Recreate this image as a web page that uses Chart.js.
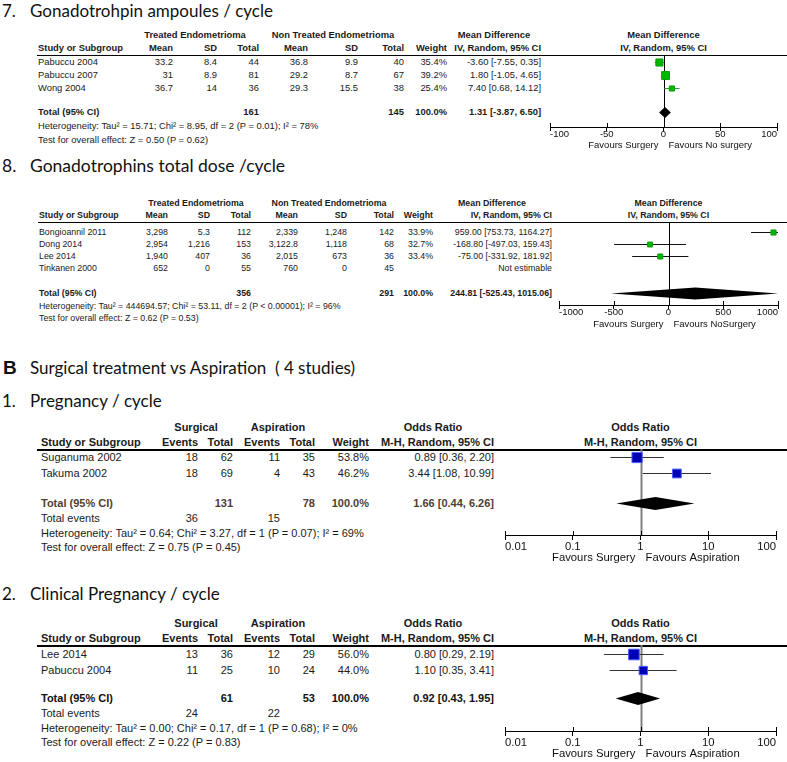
<!DOCTYPE html>
<html lang="en">
<head>
<meta charset="UTF-8">
<title>Forest plots</title>
<script src="https://cdn.jsdelivr.net/npm/chart.js"></script>
<style>
  body { margin: 0; background: #fff; }
  #page { position: relative; width: 787px; height: 762px; overflow: hidden;
          font-family: "Liberation Sans", Arial, sans-serif; color: #1a1a1a; }
  .t { position: absolute; white-space: pre; line-height: 1; }
  .title { font-family: Lato, "Open Sans", sans-serif; font-size: 17px; color: #111; }
  .rule { position: absolute; height: 1px; background: #000; }
  canvas { position: absolute; }
</style>
</head>
<body>
<div id="page"></div>
<script>
// ---- 7. Gonadotrophin ampoules / cycle ----
const studies7 = ['Pabuccu 2004', 'Pabuccu 2007', 'Wong 2004'];
const treatMean7 = ['33.2', '31', '36.7'];
const treatSD7 = ['8.4', '8.9', '14'];
const treatN7 = ['44', '81', '36'];
const ctrlMean7 = ['36.8', '29.2', '29.3'];
const ctrlSD7 = ['9.9', '8.7', '15.5'];
const ctrlN7 = ['40', '67', '38'];
const weight7 = [35.4, 39.2, 25.4];
const md7 = [-3.60, 1.80, 7.40];
const lo7 = [-7.55, -1.05, 0.68];
const hi7 = [0.35, 4.65, 14.12];
const totalN7 = ['161', '145'];
const total7 = [1.31, -3.87, 6.50];
const het7 = 'Heterogeneity: Tau² = 15.71; Chi² = 8.95, df = 2 (P = 0.01); I² = 78%';
const test7 = 'Test for overall effect: Z = 0.50 (P = 0.62)';
const ticks7 = [-100, -50, 0, 50, 100];

// ---- 8. Gonadotrophins total dose / cycle ----
const studies8 = ['Bongioannil 2011', 'Dong 2014', 'Lee 2014', 'Tinkanen 2000'];
const treatMean8 = ['3,298', '2,954', '1,940', '652'];
const treatSD8 = ['5.3', '1,216', '407', '0'];
const treatN8 = ['112', '153', '36', '55'];
const ctrlMean8 = ['2,339', '3,122.8', '2,015', '760'];
const ctrlSD8 = ['1,248', '1,118', '673', '0'];
const ctrlN8 = ['142', '68', '36', '45'];
const weight8 = [33.9, 32.7, 33.4, null];
const md8 = [959.00, -168.80, -75.00, null];
const lo8 = [753.73, -497.03, -331.92, null];
const hi8 = [1164.27, 159.43, 181.92, null];
const totalN8 = ['356', '291'];
const total8 = [244.81, -525.43, 1015.06];
const het8 = 'Heterogeneity: Tau² = 444694.57; Chi² = 53.11, df = 2 (P < 0.00001); I² = 96%';
const test8 = 'Test for overall effect: Z = 0.62 (P = 0.53)';
const ticks8 = [-1000, -500, 0, 500, 1000];

// ---- B1. Pregnancy / cycle ----
const studiesB1 = ['Suganuma 2002', 'Takuma 2002'];
const surgEvB1 = ['18', '18'];
const surgNB1 = ['62', '69'];
const aspEvB1 = ['11', '4'];
const aspNB1 = ['35', '43'];
const weightB1 = [53.8, 46.2];
const orB1 = [0.89, 3.44];
const loB1 = [0.36, 1.08];
const hiB1 = [2.20, 10.99];
const totalNB1 = ['131', '78'];
const totalEvB1 = ['36', '15'];
const totalB1 = [1.66, 0.44, 6.26];
const hetB1 = 'Heterogeneity: Tau² = 0.64; Chi² = 3.27, df = 1 (P = 0.07); I² = 69%';
const testB1 = 'Test for overall effect: Z = 0.75 (P = 0.45)';

// ---- B2. Clinical pregnancy / cycle ----
const studiesB2 = ['Lee 2014', 'Pabuccu 2004'];
const surgEvB2 = ['13', '11'];
const surgNB2 = ['36', '25'];
const aspEvB2 = ['12', '10'];
const aspNB2 = ['29', '24'];
const weightB2 = [56.0, 44.0];
const orB2 = [0.80, 1.10];
const loB2 = [0.29, 0.35];
const hiB2 = [2.19, 3.41];
const totalNB2 = ['61', '53'];
const totalEvB2 = ['24', '22'];
const totalB2 = [0.92, 0.43, 1.95];
const hetB2 = 'Heterogeneity: Tau² = 0.00; Chi² = 0.17, df = 1 (P = 0.68); I² = 0%';
const testB2 = 'Test for overall effect: Z = 0.22 (P = 0.83)';

const ticksOR = [0.01, 0.1, 1, 10, 100];
const tickLabelsOR = ['0.01', '0.1', '1', '10', '100'];

const FONT = '"Liberation Sans", Arial, sans-serif';
const page = document.getElementById('page');

function txt(x, y, s, o = {}) {
  const d = document.createElement('div');
  d.className = 't' + (o.cls ? ' ' + o.cls : '');
  d.textContent = s;
  d.style.left = x + 'px';
  d.style.top = y + 'px';
  if (o.size) d.style.fontSize = o.size + 'px';
  if (o.bold) d.style.fontWeight = 'bold';
  if (o.color) d.style.color = o.color;
  const tx = o.align === 'right' ? '-100%' : o.align === 'center' ? '-50%' : '0';
  d.style.transform = `translate(${tx}, -50%)`;
  page.appendChild(d);
  return d;
}

function rule(x0, x1, y, h = 1) {
  const d = document.createElement('div');
  d.className = 'rule';
  d.style.left = x0 + 'px';
  d.style.width = (x1 - x0) + 'px';
  d.style.top = y + 'px';
  d.style.height = h + 'px';
  page.appendChild(d);
}

const ci = (e, l, h) => `${e.toFixed(2)} [${l.toFixed(2)}, ${h.toFixed(2)}]`;

// decorations: null line, total diamond, crossing tick marks, "Favours" labels
const forestDecor = {
  id: 'forestDecor',
  beforeDatasetsDraw(chart, args, o) {
    const { ctx, chartArea: a, scales: { x } } = chart;
    const cx = Math.round(x.getPixelForValue(o.nullValue)) + 0.5;
    ctx.save();
    ctx.strokeStyle = o.nullColor;
    ctx.lineWidth = o.nullWidth;
    ctx.beginPath();
    ctx.moveTo(cx, a.top);
    ctx.lineTo(cx, a.bottom);
    ctx.stroke();
    ctx.restore();
  },
  afterDatasetsDraw(chart, args, o) {
    const { ctx, chartArea: a, scales: { x, y } } = chart;
    const [est, lo, hi] = o.total;
    const yy = y.getPixelForValue(o.totalRow);
    ctx.save();
    ctx.beginPath();
    ctx.rect(a.left, a.top, a.width, a.height);
    ctx.clip();
    ctx.fillStyle = '#000';
    ctx.beginPath();
    ctx.moveTo(x.getPixelForValue(lo), yy);
    ctx.lineTo(x.getPixelForValue(est), yy - o.diamondH);
    ctx.lineTo(x.getPixelForValue(hi), yy);
    ctx.lineTo(x.getPixelForValue(est), yy + o.diamondH);
    ctx.closePath();
    ctx.fill();
    ctx.restore();
  },
  afterDraw(chart, args, o) {
    const { ctx, chartArea: a, scales: { x } } = chart;
    ctx.save();
    ctx.strokeStyle = '#000';
    ctx.lineWidth = 1;
    x.ticks.forEach(t => {
      const px = Math.round(x.getPixelForValue(t.value)) + 0.5;
      ctx.beginPath();
      ctx.moveTo(px, a.bottom - 4);
      ctx.lineTo(px, a.bottom);
      ctx.stroke();
    });
    const cx = x.getPixelForValue(o.nullValue);
    ctx.fillStyle = '#111';
    ctx.font = `${o.favSize}px ${FONT}`;
    ctx.textBaseline = 'middle';
    ctx.textAlign = 'right';
    ctx.fillText(o.favL, cx - 5, a.bottom + o.favDy);
    ctx.textAlign = 'left';
    ctx.fillText(o.favR, cx + 5, a.bottom + o.favDy);
    ctx.restore();
  }
};

function forestChart(p) {
  const n = p.est.length;
  const axisH = 32;
  const w = p.x1 - p.x0 + 1;
  const h = p.axisY - p.ruleY + axisH;
  const c = document.createElement('canvas');
  c.width = w;
  c.height = h;
  c.style.left = p.x0 + 'px';
  c.style.top = p.ruleY + 'px';
  c.style.width = w + 'px';
  c.style.height = h + 'px';
  page.appendChild(c);

  const idx = p.est.map((v, i) => i).filter(i => p.est[i] != null);
  const ciSets = idx.map(i => ({
    type: 'line',
    data: [{ x: p.lo[i], y: i }, { x: p.hi[i], y: i }],
    borderColor: p.ciColor,
    borderWidth: 1,
    pointRadius: 0,
    order: 2
  }));
  const markers = {
    type: 'scatter',
    data: idx.map(i => ({ x: p.est[i], y: i })),
    pointStyle: 'rect',
    pointRadius: idx.map(i => p.weight[i] * p.sizeK / Math.SQRT2),
    backgroundColor: p.fill,
    borderColor: p.edge,
    borderWidth: 1,
    order: 0
  };
  const totalRow = (n - 1) + p.totalGap / p.pitch;
  // half-pixel shift keeps 1px CI lines crisp
  const top = p.off + 0.5;

  return new Chart(c, {
    type: 'scatter',
    data: { datasets: [markers, ...ciSets] },
    options: {
      responsive: false,
      animation: false,
      events: [],
      layout: { padding: { left: 0, right: 1, top: 0, bottom: 0 }, autoPadding: false },
      plugins: {
        legend: { display: false },
        tooltip: { enabled: false },
        forestDecor: {
          nullValue: p.nullValue, nullColor: p.nullColor, nullWidth: p.nullWidth,
          total: p.total, totalRow, diamondH: p.diamondH,
          favL: p.favL, favR: p.favR, favDy: p.favDy, favSize: p.fontSize
        }
      },
      scales: {
        x: {
          type: p.type,
          min: p.ticks[0],
          max: p.ticks[p.ticks.length - 1],
          afterBuildTicks: s => { s.ticks = p.ticks.map(v => ({ value: v })); },
          afterFit: s => { s.height = axisH; },
          border: { display: true, color: '#000', width: 1 },
          grid: { drawOnChartArea: false, color: '#000', tickLength: p.tickLen },
          ticks: {
            align: 'inner', padding: p.tickPad, maxRotation: 0, autoSkip: false,
            color: '#111', font: { family: FONT, size: p.fontSize },
            callback: v => p.tickLabels[p.ticks.indexOf(v)]
          }
        },
        y: {
          type: 'linear', display: false, reverse: true,
          min: -top / p.pitch,
          max: (p.axisY - p.ruleY - top) / p.pitch
        }
      }
    },
    plugins: [forestDecor]
  });
}

// ---------------- panel 7 ----------------
(function () {
  const ruleY = 55, off = 7, pitch = 13, gap = 24, fs = 9.4;
  const cols = [173, 217, 259, 308, 358, 404, 447, 541];
  txt(2, 10, '7.', { cls: 'title' });
  txt(30, 10, 'Gonadotrohpin ampoules / cycle', { cls: 'title' });
  const b = { size: fs, bold: true };
  txt(195, 35, 'Treated Endometrioma', { ...b, align: 'center' });
  txt(333, 35, 'Non Treated Endometrioma', { ...b, align: 'center' });
  txt(494, 35, 'Mean Difference', { ...b, align: 'center' });
  txt(38, 48, 'Study or Subgroup', b);
  ['Mean', 'SD', 'Total', 'Mean', 'SD', 'Total', 'Weight', 'IV, Random, 95% CI']
    .forEach((s, k) => txt(cols[k], 48, s, { ...b, align: 'right' }));
  rule(37, 787, ruleY);
  const r = { size: fs, align: 'right' };
  studies7.forEach((s, i) => {
    const y = ruleY + off + i * pitch;
    txt(38, y, s, { size: fs });
    [treatMean7[i], treatSD7[i], treatN7[i], ctrlMean7[i], ctrlSD7[i], ctrlN7[i],
     weight7[i].toFixed(1) + '%', ci(md7[i], lo7[i], hi7[i])]
      .forEach((v, k) => txt(cols[k], y, v, r));
  });
  const ty = ruleY + off + (studies7.length - 1) * pitch + gap;
  txt(38, ty, 'Total (95% CI)', b);
  txt(cols[2], ty, totalN7[0], { ...b, align: 'right' });
  txt(cols[5], ty, totalN7[1], { ...b, align: 'right' });
  txt(cols[6], ty, '100.0%', { ...b, align: 'right' });
  txt(cols[7], ty, ci(...total7), { ...b, align: 'right' });
  txt(38, ty + 14, het7, { size: fs });
  txt(38, ty + 28, test7, { size: fs });

  const ch = forestChart({
    x0: 550, x1: 777, ruleY, axisY: 127, off, pitch, totalGap: gap, type: 'linear',
    ticks: ticks7, tickLabels: ticks7.map(String), est: md7, lo: lo7, hi: hi7, weight: weight7,
    sizeK: 0.2, fill: '#00b800', edge: '#0a9a0a', ciColor: '#2a9a2a',
    nullValue: 0, nullColor: '#000', nullWidth: 1, total: total7, diamondH: 5.5,
    favL: 'Favours Surgery', favR: 'Favours No surgery', favDy: 18,
    fontSize: 9.5, tickLen: 4, tickPad: -2
  });
  const cx = 550 + ch.scales.x.getPixelForValue(0);
  txt(cx, 35, 'Mean Difference', { ...b, align: 'center' });
  txt(cx, 48, 'IV, Random, 95% CI', { ...b, align: 'center' });
})();

// ---------------- panel 8 ----------------
(function () {
  const ruleY = 222, off = 10, pitch = 12, gap = 25, fs = 8.8;
  const cols = [168, 210, 251, 298, 347, 394, 433, 552];
  txt(2, 166, '8.', { cls: 'title', size: 17.5 });
  txt(30, 166, 'Gonadotrophins total dose /cycle', { cls: 'title', size: 17.5 });
  const b = { size: fs, bold: true };
  txt(196, 203, 'Treated Endometrioma', { ...b, align: 'center' });
  txt(329, 203, 'Non Treated Endometrioma', { ...b, align: 'center' });
  txt(492, 203, 'Mean Difference', { ...b, align: 'center' });
  txt(39, 215, 'Study or Subgroup', b);
  ['Mean', 'SD', 'Total', 'Mean', 'SD', 'Total', 'Weight', 'IV, Random, 95% CI']
    .forEach((s, k) => txt(cols[k], 215, s, { ...b, align: 'right' }));
  rule(38, 787, ruleY);
  const r = { size: fs, align: 'right' };
  studies8.forEach((s, i) => {
    const y = ruleY + off + i * pitch;
    txt(39, y, s, { size: fs });
    [treatMean8[i], treatSD8[i], treatN8[i], ctrlMean8[i], ctrlSD8[i], ctrlN8[i],
     weight8[i] == null ? '' : weight8[i].toFixed(1) + '%',
     md8[i] == null ? 'Not estimable' : ci(md8[i], lo8[i], hi8[i])]
      .forEach((v, k) => txt(cols[k], y, v, r));
  });
  const ty = ruleY + off + (studies8.length - 1) * pitch + gap;
  txt(39, ty, 'Total (95% CI)', b);
  txt(cols[2], ty, totalN8[0], { ...b, align: 'right' });
  txt(cols[5], ty, totalN8[1], { ...b, align: 'right' });
  txt(cols[6], ty, '100.0%', { ...b, align: 'right' });
  txt(cols[7], ty, ci(...total8), { ...b, align: 'right' });
  txt(39, ty + 13, het8, { size: fs });
  txt(39, ty + 25, test8, { size: fs });

  const ch = forestChart({
    x0: 559, x1: 778, ruleY, axisY: 305, off, pitch, totalGap: gap, type: 'linear',
    ticks: ticks8, tickLabels: ticks8.map(String), est: md8, lo: lo8, hi: hi8, weight: weight8,
    sizeK: 0.15, fill: '#00b800', edge: '#0a9a0a', ciColor: '#111',
    nullValue: 0, nullColor: '#000', nullWidth: 1, total: total8, diamondH: 6,
    favL: 'Favours Surgery', favR: 'Favours NoSurgery', favDy: 19,
    fontSize: 9.5, tickLen: 4, tickPad: -2
  });
  const cx = 559 + ch.scales.x.getPixelForValue(0);
  txt(cx, 203, 'Mean Difference', { ...b, align: 'center' });
  txt(cx, 215, 'IV, Random, 95% CI', { ...b, align: 'center' });
})();

// ---------------- section B ----------------
txt(3, 367, 'B', { size: 19, bold: true, color: '#111' });
txt(30, 367, 'Surgical treatment vs Aspiration  ( 4 studies)', { cls: 'title' });

function orPanel(q) {
  const fs = 11;
  const cols = [198, 233, 280, 315, 369, 494];
  txt(2, q.titleY, q.num, { cls: 'title' });
  txt(30, q.titleY, q.title, { cls: 'title' });
  const b = { size: fs, bold: true };
  const h1 = q.ruleY - 22, h2 = q.ruleY - 7;
  txt(196, h1, 'Surgical', { ...b, align: 'center' });
  txt(278, h1, 'Aspiration', { ...b, align: 'center' });
  txt(433, h1, 'Odds Ratio', { ...b, align: 'center' });
  txt(41, h2, 'Study or Subgroup', b);
  ['Events', 'Total', 'Events', 'Total', 'Weight', 'M-H, Random, 95% CI']
    .forEach((s, k) => txt(cols[k], h2, s, { ...b, align: 'right' }));
  rule(37, 787, q.ruleY, 1.5);
  const r = { size: fs, align: 'right' };
  q.studies.forEach((s, i) => {
    const y = q.ruleY + q.off + i * q.pitch;
    txt(41, y, s, { size: fs });
    [q.sEv[i], q.sN[i], q.aEv[i], q.aN[i], q.weight[i].toFixed(1) + '%', ci(q.est[i], q.lo[i], q.hi[i])]
      .forEach((v, k) => txt(cols[k], y, v, r));
  });
  const ty = q.ruleY + q.off + (q.studies.length - 1) * q.pitch + q.gap;
  const tb = { ...b, color: q.totalColor };
  txt(41, ty, 'Total (95% CI)', tb);
  txt(cols[1], ty, q.totalN[0], { ...tb, align: 'right' });
  txt(cols[3], ty, q.totalN[1], { ...tb, align: 'right' });
  txt(cols[4], ty, '100.0%', { ...tb, align: 'right' });
  txt(cols[5], ty, ci(...q.total), { ...tb, align: 'right' });
  txt(41, ty + 15, 'Total events', { size: fs });
  txt(cols[0], ty + 15, q.totalEv[0], r);
  txt(cols[2], ty + 15, q.totalEv[1], r);
  txt(41, ty + 30, q.het, { size: fs });
  txt(41, ty + 44, q.test, { size: fs });

  const ch = forestChart({
    x0: 505, x1: 776, ruleY: q.ruleY, axisY: q.axisY, off: q.off, pitch: q.pitch, totalGap: q.gap,
    type: 'logarithmic', ticks: ticksOR, tickLabels: tickLabelsOR,
    est: q.est, lo: q.lo, hi: q.hi, weight: q.weight,
    sizeK: 0.19, fill: '#0000b4', edge: '#4a5cff', ciColor: '#333',
    nullValue: 1, nullColor: '#808080', nullWidth: 2, total: q.total, diamondH: 6.5,
    favL: 'Favours Surgery', favR: 'Favours Aspiration', favDy: 23,
    fontSize: 11.3, tickLen: 5, tickPad: 0
  });
  const cx = 505 + ch.scales.x.getPixelForValue(1);
  txt(cx, h1, 'Odds Ratio', { ...b, align: 'center' });
  txt(cx, h2, 'M-H, Random, 95% CI', { ...b, align: 'center' });
}

orPanel({
  num: '1.', title: 'Pregnancy / cycle', titleY: 400, ruleY: 449, off: 8, pitch: 16, gap: 30, axisY: 535,
  studies: studiesB1, sEv: surgEvB1, sN: surgNB1, aEv: aspEvB1, aN: aspNB1, weight: weightB1,
  est: orB1, lo: loB1, hi: hiB1, total: totalB1, totalN: totalNB1, totalEv: totalEvB1,
  het: hetB1, test: testB1, totalColor: '#4e4032'
});

orPanel({
  num: '2.', title: 'Clinical Pregnancy / cycle', titleY: 593, ruleY: 645, off: 9, pitch: 16, gap: 28, axisY: 731,
  studies: studiesB2, sEv: surgEvB2, sN: surgNB2, aEv: aspEvB2, aN: aspNB2, weight: weightB2,
  est: orB2, lo: loB2, hi: hiB2, total: totalB2, totalN: totalNB2, totalEv: totalEvB2,
  het: hetB2, test: testB2, totalColor: '#111'
});
</script>
</body>
</html>
